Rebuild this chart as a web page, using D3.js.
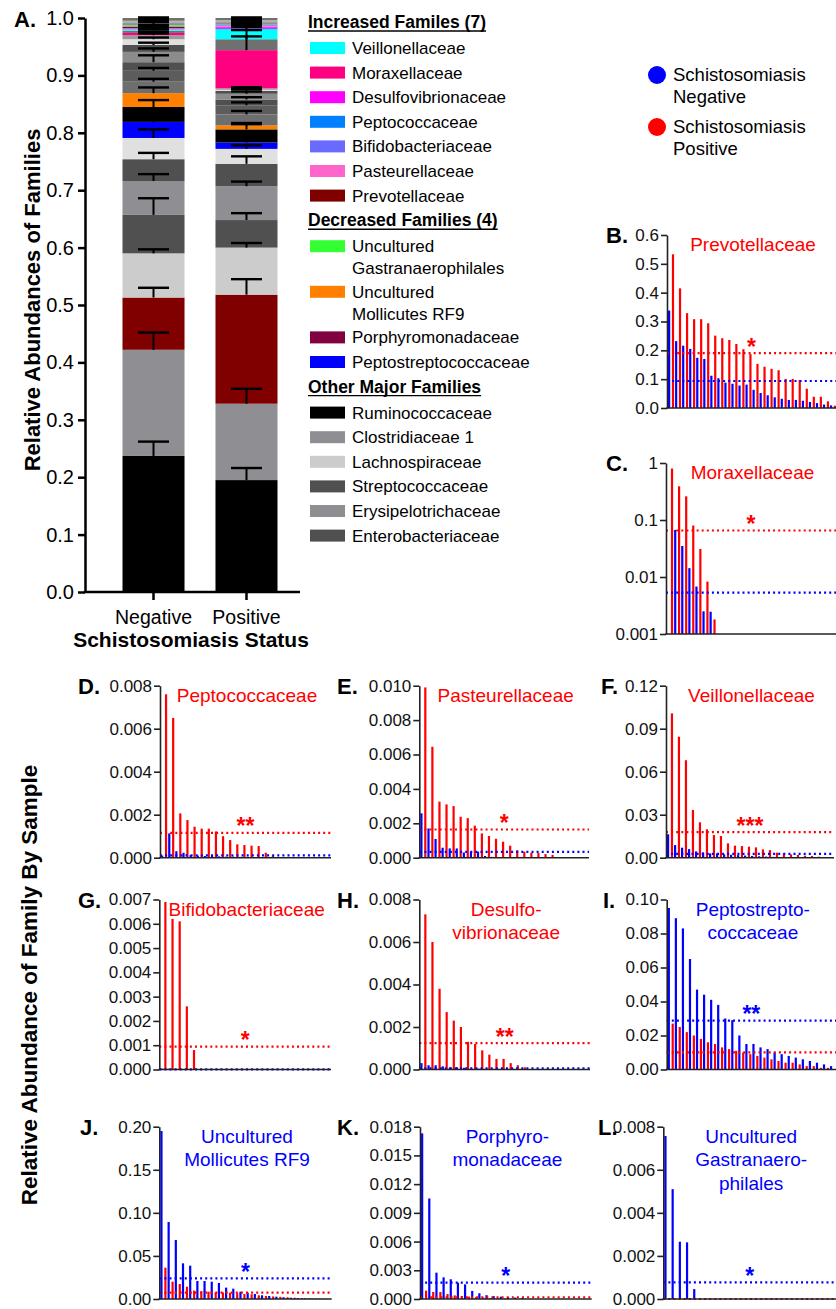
<!DOCTYPE html>
<html>
<head>
<meta charset="utf-8">
<script src="https://cdn.jsdelivr.net/npm/d3@7"></script>
<style>
  body { margin: 0; background: #fff; }
  svg text { font-family: "Liberation Sans", Arial, Helvetica, sans-serif; }
</style>
</head>
<body>
<svg id="fig" width="836" height="1309"></svg>
<script>
// ---------------- Panel A: mean relative abundance per family (stacked) ----------------
const statusGroups = ["Negative", "Positive"];
const abundanceTicks = [0, 0.1, 0.2, 0.3, 0.4, 0.5, 0.6, 0.7, 0.8, 0.9, 1.0];

// stack order, bottom to top
const stackFamilies = [
  "Ruminococcaceae", "Clostridiaceae 1", "Prevotellaceae", "Lachnospiraceae",
  "Streptococcaceae", "Erysipelotrichaceae", "Enterobacteriaceae", "Minor family 1",
  "Peptostreptococcaceae", "Minor family 2", "Uncultured Mollicutes RF9", "Minor family 3",
  "Minor family 4", "Minor family 5", "Minor family 6", "Minor family 7",
  "Minor family 8", "Minor family 9", "Moraxellaceae", "Minor family 10",
  "Veillonellaceae", "Bifidobacteriaceae", "Desulfovibrionaceae", "Pasteurellaceae",
  "Peptococcaceae", "Porphyromonadaceae", "Uncultured Gastranaerophilales", "Minor family 11",
  "Minor family 12", "Minor family 13"
];
const stackColors = [
  "#000000", "#8e8e93", "#800000", "#cccccc",
  "#505050", "#8e8e93", "#505050", "#e0e0e0",
  "#0000ff", "#000000", "#ff8000", "#6e6e6e",
  "#5c5c5c", "#505050", "#8c8c8c", "#505050",
  "#e0e0e0", "#9a9a9a", "#ff0080", "#707070",
  "#00ffff", "#6a6aff", "#ff00ff", "#ff66cc",
  "#0080ff", "#800040", "#33ff33", "#8e8e93",
  "#b0b0b0", "#707070"
];
const negMeans = [
  0.237, 0.185, 0.091, 0.077, 0.067, 0.059, 0.038, 0.037,
  0.028, 0.026, 0.024, 0.020, 0.019, 0.015, 0.018, 0.012,
  0.010, 0.007, 0.004, 0.004, 0.002, 0.0005, 0.001, 0.0005,
  0.0002, 0.003, 0.002, 0.004, 0.004, 0.0048
];
const posMeans = [
  0.195, 0.133, 0.190, 0.082, 0.048, 0.059, 0.039, 0.026,
  0.011, 0.023, 0.007, 0.019, 0.016, 0.010, 0.010, 0.005,
  0.002, 0.0025, 0.0665, 0.019, 0.017, 0.003, 0.002, 0.002,
  0.001, 0.0005, 0.0003, 0.004, 0.0037, 0.0035
];
const negSEM = [
  0.025, 0.030, 0.017, 0.007, 0.029, 0.012, 0.011, 0.015,
  0.004, 0.012, 0.010, 0.005, 0.005, 0.012, 0.006, 0.004,
  0.003, 0.003, 0.002, 0.002, 0.001, 0.0015, 0.0025, 0.0035,
  0.0045, 0.003, 0.006, 0.004, 0.003, 0.001
];
const posSEM = [
  0.021, 0.026, 0.027, 0.008, 0.012, 0.008, 0.013, 0.006,
  0.003, 0.009, 0.004, 0.006, 0.005, 0.004, 0.004, 0.003,
  0.002, 0.002, 0.035, 0.005, 0.006, 0.0015, 0.0025, 0.0035,
  0.0045, 0.0055, 0.0075, 0.004, 0.003, 0.001
];

// legend of panel A
const legendSections = [
  { title: "Increased Familes (7)", items: ["Veillonellaceae", "Moraxellaceae", "Desulfovibrionaceae", "Peptococcaceae", "Bifidobacteriaceae", "Pasteurellaceae", "Prevotellaceae"] },
  { title: "Decreased Families (4)", items: ["Uncultured Gastranaerophilales", "Uncultured Mollicutes RF9", "Porphyromonadaceae", "Peptostreptococcaceae"] },
  { title: "Other Major Families", items: ["Ruminococcaceae", "Clostridiaceae 1", "Lachnospiraceae", "Streptococcaceae", "Erysipelotrichaceae", "Enterobacteriaceae"] }
];
const legendLines = {
  "Uncultured Gastranaerophilales": ["Uncultured", "Gastranaerophilales"],
  "Uncultured Mollicutes RF9": ["Uncultured", "Mollicutes RF9"]
};

// ---------------- Panels B-L: abundance of a family in each sample ----------------
const sampleSlots = 24;
const NEG = "#0000ff", POS = "#ff0000";

const prevotellaceaeNeg = [0.338,0.232,0.216,0.205,0.174,0.170,0.112,0.103,0.088,0.084,0.078,0.081,0.063,0.052,0.044,0.037,0.032,0.028,0.028,0.025,0.021,0.017,0.012,0.009];
const prevotellaceaePos = [0.533,0.415,0.329,0.308,0.308,0.294,0.251,0.242,0.236,0.222,0.204,0.187,0.153,0.143,0.136,0.131,0.101,0.101,0.097,0.067,0.039,0.039,0.023,0.008];
const prevotellaceaeTicks = [0, 0.1, 0.2, 0.3, 0.4, 0.5, 0.6];

const moraxellaceaeNeg = [0,0.067,0.035,0.0143,0.0068,0.0025,0.00246,0,0,0,0,0,0,0,0,0,0,0,0,0,0,0,0,0];
const moraxellaceaePos = [0.80,0.39,0.26,0.080,0.031,0.0083,0.0018,0,0,0,0,0,0,0,0,0,0,0,0,0,0,0,0,0];
const moraxellaceaeTicks = [0.001, 0.01, 0.1, 1];
const moraxellaceaeTickLabels = ["0.001", "0.01", "0.1", "1"];

const peptococcaceaeNeg = [0.0001,0.00113,0.0003,0.00023,0.00012,0.0001,0.00008,0.00008,0.00006,0.00005,0.00005,0.00004,0.00004,0.00003,0.00003,0.00002,0.00002,0.00002,0.00001,0.00001,0.00001,0,0,0];
const peptococcaceaePos = [0.0076,0.0065,0.00206,0.00175,0.00144,0.00135,0.00135,0.00122,0.001,0.00082,0.00062,0.00059,0.00056,0.00054,0.00023,0.0001,0,0,0,0,0,0,0,0];
const peptococcaceaeTicks = [0, 0.002, 0.004, 0.006, 0.008];

const pasteurellaceaeNeg = [0.00258,0.0017,0.00109,0.00058,0.00054,0.00054,0.0003,0.00035,0.00035,0.0001,0.00005,0.00003,0,0,0,0,0,0,0,0,0,0,0,0];
const pasteurellaceaePos = [0.0099,0.00645,0.00326,0.0031,0.003,0.00238,0.0023,0.00186,0.00141,0.00126,0.0011,0.00093,0.0007,0.00043,0.00035,0.00029,0.00027,0.00021,0.00016,0,0,0,0,0];
const pasteurellaceaeTicks = [0, 0.002, 0.004, 0.006, 0.008, 0.010];

const veillonellaceaeNeg = [0.0163,0.0088,0.007,0.006,0.0044,0.0037,0.003,0.003,0.0023,0.002,0.0018,0.0015,0.0012,0.001,0.0008,0.0006,0.0005,0.0004,0.0003,0.0002,0.0001,0.0001,0,0];
const veillonellaceaePos = [0.1007,0.0844,0.068,0.0333,0.0247,0.0198,0.0158,0.0151,0.01,0.0084,0.0081,0.0077,0.0072,0.0058,0.0053,0.0035,0.003,0.0023,0.0019,0.0014,0.0012,0.0007,0.0004,0.0002];
const veillonellaceaeTicks = [0, 0.03, 0.06, 0.09, 0.12];

const bifidobacteriaceaeNeg = [0.00004,0.00003,0.00002,0.00002,0.00001,0,0,0,0,0,0,0,0,0,0,0,0,0,0,0,0,0,0,0];
const bifidobacteriaceaePos = [0.0069,0.0062,0.0061,0.0026,0.0008,0,0,0,0,0,0,0,0,0,0,0,0,0,0,0,0,0,0,0];
const bifidobacteriaceaeTicks = [0, 0.001, 0.002, 0.003, 0.004, 0.005, 0.006, 0.007];

const desulfovibrionaceaeNeg = [0.0003,0.0002,0.0002,0.00015,0.0001,0.0001,0.00008,0.00005,0.00004,0.00003,0.00002,0,0,0,0,0,0,0,0,0,0,0,0,0];
const desulfovibrionaceaePos = [0.0073,0.006,0.0038,0.0027,0.0023,0.002,0.0013,0.0012,0.0009,0.0007,0.0005,0.0005,0.0003,0.0002,0.0001,0,0,0,0,0,0,0,0,0];
const desulfovibrionaceaeTicks = [0, 0.002, 0.004, 0.006, 0.008];

const peptostreptococcaceaeNeg = [0.095,0.089,0.083,0.065,0.047,0.044,0.041,0.038,0.030,0.029,0.020,0.015,0.015,0.013,0.012,0.010,0.009,0.008,0.007,0.006,0.005,0.004,0.003,0.002];
const peptostreptococcaceaePos = [0.027,0.025,0.022,0.020,0.018,0.016,0.015,0.013,0.012,0.011,0.010,0.009,0.008,0.007,0.006,0.005,0.004,0.004,0.003,0.002,0.002,0.001,0.001,0];
const peptostreptococcaceaeTicks = [0, 0.02, 0.04, 0.06, 0.08, 0.10];

const mollicutesNeg = [0.195,0.0894,0.0685,0.0414,0.0387,0.0209,0.0209,0.0201,0.0186,0.0132,0.012,0.0085,0.0073,0.0058,0.0043,0.0035,0.0027,0.002,0.0015,0.001,0.0008,0.0005,0.0003,0.0001];
const mollicutesPos = [0.0364,0.0201,0.0174,0.0143,0.0097,0.0089,0.0085,0.0077,0.0077,0.0073,0.0066,0.0058,0.0055,0.0043,0.0035,0.003,0.0025,0.002,0.0015,0.001,0.0008,0.0005,0.0003,0.0001];
const mollicutesTicks = [0, 0.05, 0.10, 0.15, 0.20];

const porphyromonadaceaeNeg = [0.0173,0.0105,0.00275,0.00226,0.00206,0.0017,0.00153,0.00084,0.0006,0.0004,0.0003,0.00024,0.0002,0.00015,0.0001,0,0,0,0,0,0,0,0,0];
const porphyromonadaceaePos = [0.00087,0.00073,0.00073,0.00052,0.00038,0.0003,0.00025,0.0002,0.00015,0.0001,0.00008,0.00005,0,0,0,0,0,0,0,0,0,0,0,0];
const porphyromonadaceaeTicks = [0, 0.003, 0.006, 0.009, 0.012, 0.015, 0.018];

const gastranaerophilalesNeg = [0.00757,0.0051,0.00266,0.00263,0.00046,0,0,0,0,0,0,0,0,0,0,0,0,0,0,0,0,0,0,0];
const gastranaerophilalesPos = [0,0,0,0,0,0,0,0,0,0,0,0,0,0,0,0,0,0,0,0,0,0,0,0];
const gastranaerophilalesTicks = [0, 0.002, 0.004, 0.006, 0.008];

// ---------------- drawing ----------------
const svg = d3.select("#fig");

// ---- Panel A ----
const yA = d3.scaleLinear().domain([0, 1]).range([592, 18]);
const xA = d3.scaleBand().domain(statusGroups).range([100, 300]).paddingInner(0.333).paddingOuter(0.242);
const axisLeftA = 85;

const groupMeans = { Negative: negMeans, Positive: posMeans };
const groupSEM = { Negative: negSEM, Positive: posSEM };
const segments = [];
statusGroups.forEach(g => {
  let acc = 0;
  groupMeans[g].forEach((v, k) => {
    segments.push({ group: g, k, y0: acc, y1: acc + v, sem: groupSEM[g][k] });
    acc += v;
  });
});

const gA = svg.append("g");
gA.selectAll("rect.seg").data(segments).join("rect")
  .attr("class", "seg")
  .attr("x", d => xA(d.group))
  .attr("width", xA.bandwidth())
  .attr("y", d => yA(d.y1))
  .attr("height", d => yA(d.y0) - yA(d.y1))
  .attr("fill", d => stackColors[d.k]);

// upward error bars (SEM) on each segment
const capHalf = xA.bandwidth() / 4;
const cx = d => xA(d.group) + xA.bandwidth() / 2;
const bars = gA.selectAll("g.err").data(segments).join("g").attr("class", "err");
bars.append("line")
  .attr("x1", cx).attr("x2", cx)
  .attr("y1", d => yA(d.y1)).attr("y2", d => yA(d.y1 + d.sem))
  .attr("stroke", "#000").attr("stroke-width", 2);
bars.append("line")
  .attr("x1", d => cx(d) - capHalf).attr("x2", d => cx(d) + capHalf)
  .attr("y1", d => yA(d.y1 + d.sem)).attr("y2", d => yA(d.y1 + d.sem))
  .attr("stroke", "#000").attr("stroke-width", 2.4);

const axA = gA.append("g").attr("transform", `translate(${axisLeftA},0)`)
  .call(d3.axisLeft(yA).tickValues(abundanceTicks).tickFormat(d3.format(".1f")).tickSize(7).tickSizeOuter(0).tickPadding(4));
axA.select(".domain").attr("stroke-width", 2.5).attr("stroke", "#000");
axA.selectAll(".tick line").attr("stroke-width", 2.5).attr("stroke", "#000");
axA.selectAll(".tick text").attr("font-size", 20).attr("fill", "#000").style("font-family", '"Liberation Sans", Arial, sans-serif');

const axAx = gA.append("g").attr("transform", `translate(0,${yA(0)})`)
  .call(d3.axisBottom(xA).tickSize(8).tickPadding(10).tickSizeOuter(0));
axAx.select(".domain").remove();
axAx.selectAll(".tick line").attr("stroke-width", 2.5).attr("stroke", "#000");
axAx.selectAll(".tick text").attr("font-size", 19.5).attr("fill", "#000").style("font-family", '"Liberation Sans", Arial, sans-serif');
gA.append("line").attr("x1", axisLeftA - 1.2).attr("x2", xA.range()[1])
  .attr("y1", yA(0)).attr("y2", yA(0)).attr("stroke", "#000").attr("stroke-width", 2.5);

gA.append("text").attr("x", 191).attr("y", 647).attr("text-anchor", "middle")
  .attr("font-size", 21).attr("font-weight", "bold").text("Schistosomiasis Status");
gA.append("text").attr("transform", "translate(40,300) rotate(-90)").attr("text-anchor", "middle")
  .attr("font-size", 22).attr("font-weight", "bold").text("Relative Abundances of Families");
gA.append("text").attr("x", 14).attr("y", 27).attr("font-size", 22).attr("font-weight", "bold").text("A.");

// legend of panel A
const colorOf = name => stackColors[stackFamilies.indexOf(name)];
const gL = svg.append("g");
let ly = 22;
legendSections.forEach(sec => {
  const t = gL.append("text").attr("x", 308).attr("y", ly + 6).attr("font-size", 17.5)
    .attr("font-weight", "bold").text(sec.title);
  const w = t.node().getComputedTextLength();
  gL.append("line").attr("x1", 308).attr("x2", 308 + w).attr("y1", ly + 9).attr("y2", ly + 9)
    .attr("stroke", "#000").attr("stroke-width", 1.4);
  ly += 26;
  sec.items.forEach(name => {
    const lines = legendLines[name] || [name];
    gL.append("rect").attr("x", 310).attr("y", ly - 6).attr("width", 35).attr("height", 12)
      .attr("fill", colorOf(name));
    lines.forEach((s, j) => {
      gL.append("text").attr("x", 352).attr("y", ly + 6 + j * 22).attr("font-size", 17).text(s);
    });
    ly += 24.6 + (lines.length - 1) * 21;
  });
});

// group legend
const groupLegend = [
  { color: NEG, lines: ["Schistosomiasis", "Negative"], y: 75 },
  { color: POS, lines: ["Schistosomiasis", "Positive"], y: 127 }
];
groupLegend.forEach(d => {
  svg.append("circle").attr("cx", 657).attr("cy", d.y).attr("r", 9).attr("fill", d.color);
  d.lines.forEach((s, j) => {
    svg.append("text").attr("x", 673).attr("y", d.y + 6 + j * 22).attr("font-size", 18.5).text(s);
  });
});

// ---- Panels B-L ----
const panels = [
  { letter: "B.", neg: prevotellaceaeNeg, pos: prevotellaceaePos, ticks: prevotellaceaeTicks, fmt: d3.format(".1f"),
    max: 0.6, left: 667, right: 836, top: 235, bottom: 408, title: ["Prevotellaceae"], titleColor: POS, star: "*", starGroup: "pos", letterX: 606 },
  { letter: "C.", neg: moraxellaceaeNeg, pos: moraxellaceaePos, ticks: moraxellaceaeTicks, labels: moraxellaceaeTickLabels,
    log: true, min: 0.001, max: 1, left: 666, right: 836, top: 463, bottom: 634, title: ["Moraxellaceae"], titleColor: POS, star: "*", starGroup: "pos", letterX: 606 },
  { letter: "D.", neg: peptococcaceaeNeg, pos: peptococcaceaePos, ticks: peptococcaceaeTicks, fmt: d3.format(".3f"),
    max: 0.008, left: 160, right: 331, top: 685.7, bottom: 857.7, title: ["Peptococcaceae"], titleColor: POS, star: "**", starGroup: "pos", letterX: 78 },
  { letter: "E.", neg: pasteurellaceaeNeg, pos: pasteurellaceaePos, ticks: pasteurellaceaeTicks, fmt: d3.format(".3f"),
    max: 0.010, left: 419.3, right: 589, top: 685.7, bottom: 857.7, title: ["Pasteurellaceae"], titleColor: POS, star: "*", starGroup: "pos", letterX: 337 },
  { letter: "F.", neg: veillonellaceaeNeg, pos: veillonellaceaePos, ticks: veillonellaceaeTicks, fmt: d3.format(".2f"),
    max: 0.12, left: 666, right: 834, top: 685.7, bottom: 857.7, title: ["Veillonellaceae"], titleColor: POS, star: "***", starGroup: "pos", letterX: 601 },
  { letter: "G.", neg: bifidobacteriaceaeNeg, pos: bifidobacteriaceaePos, ticks: bifidobacteriaceaeTicks, fmt: d3.format(".3f"),
    max: 0.007, left: 159.3, right: 331, top: 899.5, bottom: 1069.5, title: ["Bifidobacteriaceae"], titleColor: POS, star: "*", starGroup: "pos", letterX: 78 },
  { letter: "H.", neg: desulfovibrionaceaeNeg, pos: desulfovibrionaceaePos, ticks: desulfovibrionaceaeTicks, fmt: d3.format(".3f"),
    max: 0.008, left: 419.3, right: 590, top: 899.5, bottom: 1069.5, title: ["Desulfo-", "vibrionaceae"], titleColor: POS, star: "**", starGroup: "pos", letterX: 337 },
  { letter: "I.", neg: peptostreptococcaceaeNeg, pos: peptostreptococcaceaePos, ticks: peptostreptococcaceaeTicks, fmt: d3.format(".2f"),
    max: 0.10, left: 666.7, right: 836, top: 899.5, bottom: 1069.5, title: ["Peptostrepto-", "coccaceae"], titleColor: NEG, star: "**", starGroup: "neg", letterX: 603 },
  { letter: "J.", neg: mollicutesNeg, pos: mollicutesPos, ticks: mollicutesTicks, fmt: d3.format(".2f"),
    max: 0.20, left: 159.3, right: 331.7, top: 1126.7, bottom: 1299, title: ["Uncultured", "Mollicutes RF9"], titleColor: NEG, star: "*", starGroup: "neg", letterX: 80 },
  { letter: "K.", neg: porphyromonadaceaeNeg, pos: porphyromonadaceaePos, ticks: porphyromonadaceaeTicks, fmt: d3.format(".3f"),
    max: 0.018, left: 420, right: 591.7, top: 1126.7, bottom: 1299, title: ["Porphyro-", "monadaceae"], titleColor: NEG, star: "*", starGroup: "neg", letterX: 337 },
  { letter: "L.", neg: gastranaerophilalesNeg, pos: gastranaerophilalesPos, ticks: gastranaerophilalesTicks, fmt: d3.format(".3f"),
    max: 0.008, left: 663.3, right: 836, top: 1126.7, bottom: 1299, title: ["Uncultured", "Gastranaero-", "philales"], titleColor: NEG, star: "*", starGroup: "neg", letterX: 598 }
];

panels.forEach(p => {
  const g = svg.append("g");
  const x = d3.scaleBand().domain(d3.range(sampleSlots)).range([p.left, p.right]);
  const y = p.log
    ? d3.scaleLog().domain([p.min, p.max]).range([p.bottom, p.top])
    : d3.scaleLinear().domain([0, p.max]).range([p.bottom, p.top]);
  const base = p.log ? p.min : 0;
  const bw = x.bandwidth();

  // one thin bar per sample; a negative and a positive sample share each slot
  [[p.neg, NEG, 0.30], [p.pos, POS, 0.85]].forEach(([vals, color, off]) => {
    g.selectAll(null)
      .data(vals.map((v, i) => ({ v, i })).filter(d => d.v > base))
      .join("rect")
      .attr("x", d => x(d.i) + bw * off - 1.1)
      .attr("width", 2.2)
      .attr("y", d => y(d.v))
      .attr("height", d => y(base) - y(d.v))
      .attr("fill", color);
  });

  // group means as dotted lines
  const means = { neg: d3.mean(p.neg), pos: d3.mean(p.pos) };
  [["pos", POS], ["neg", NEG]].forEach(([k, color]) => {
    const m = p.log ? Math.max(means[k], p.min) : means[k];
    g.append("line").attr("x1", p.left).attr("x2", p.right)
      .attr("y1", y(m)).attr("y2", y(m))
      .attr("stroke", color).attr("stroke-width", 2.2).attr("stroke-dasharray", "2,3.1");
  });

  // axes
  const ax = g.append("g").attr("transform", `translate(${p.left},0)`)
    .call(d3.axisLeft(y).tickValues(p.ticks)
      .tickFormat(p.labels ? ((d, i) => p.labels[i]) : p.fmt)
      .tickSize(6).tickSizeOuter(0).tickPadding(2));
  ax.select(".domain").attr("stroke", "#222").attr("stroke-width", 1.6);
  ax.selectAll(".tick line").attr("stroke", "#222").attr("stroke-width", 1.6);
  ax.selectAll(".tick text").attr("font-size", 17).attr("fill", "#111")
    .style("font-family", '"Liberation Sans", Arial, sans-serif');
  g.append("line").attr("x1", p.left - 0.8).attr("x2", p.right)
    .attr("y1", p.bottom).attr("y2", p.bottom).attr("stroke", "#222").attr("stroke-width", 1.6);

  // labels
  const mid = (p.left + p.right) / 2;
  g.append("text").attr("x", p.letterX).attr("y", p.top + 8).attr("font-size", 22)
    .attr("font-weight", "bold").text(p.letter);
  p.title.forEach((s, j) => {
    g.append("text").attr("x", mid + 1.5).attr("y", p.top + 16 + j * 23.5)
      .attr("text-anchor", "middle").attr("font-size", 19).attr("fill", p.titleColor).text(s);
  });
  const sm = p.log ? Math.max(means[p.starGroup], p.min) : means[p.starGroup];
  g.append("text").attr("x", mid).attr("y", y(sm) + 1.5)
    .attr("text-anchor", "middle").attr("font-size", 23).attr("font-weight", "bold")
    .attr("fill", p.starGroup === "pos" ? POS : NEG).text(p.star);
});

svg.append("text").attr("transform", "translate(37,985) rotate(-90)").attr("text-anchor", "middle")
  .attr("font-size", 22.5).attr("font-weight", "bold").text("Relative Abundance of Family By Sample");
</script>
</body>
</html>
